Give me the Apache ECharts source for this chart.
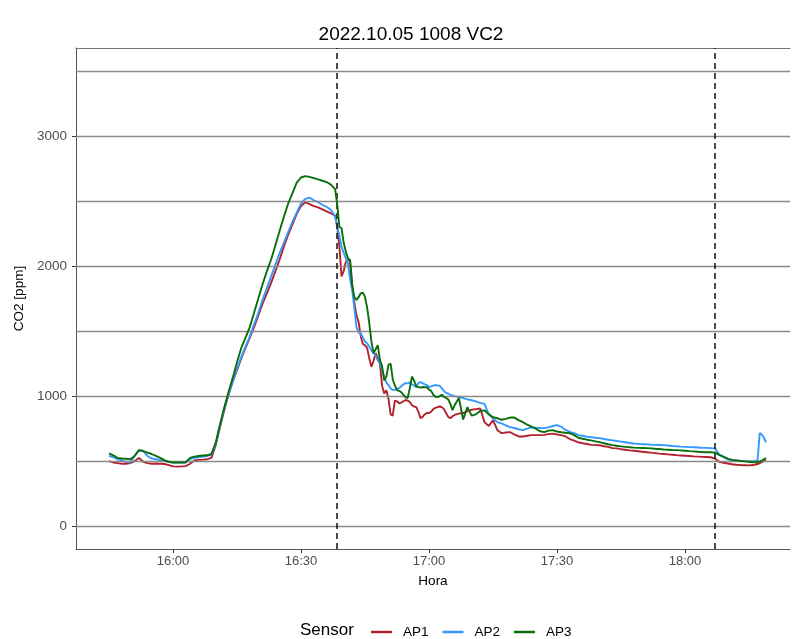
<!DOCTYPE html>
<html><head><meta charset="utf-8">
<script src="https://cdn.jsdelivr.net/npm/echarts@6/dist/echarts.min.js"></script>
<style>html,body{margin:0;padding:0;background:#fff}#c{width:792px;height:639px}</style>
</head><body><div id="c"></div>
<script>
// minutes after 16:00
const minutes = [-15,-14,-13,-12,-11,-10,-9,-8,-7,-6,-5,-4,-3,-2,-1,
0,1,2,3,4,5,6,7,8,9,
10,11,12,13,14,15,16,17,18,19,20,21,22,23,24,25,26,27,28,29,30,31,32,33,34,35,36,37,
38,38.5,39,39.5,40,40.5,41,41.5,42,42.5,43,43.5,44,44.5,45,45.5,46,46.5,47,47.5,48,48.5,49,49.5,50,50.5,51,51.5,52,52.5,53,53.5,54,54.5,55,55.5,56,56.5,57,57.5,58,58.5,59,59.5,60,60.5,61,61.5,62,62.5,63,63.5,64,64.5,65,65.5,66,
67,68,69,70,71,72,73,74,75,76,77,78,79,80,81,82,83,84,85,86,87,88,89,90,91,92,93,94,95,96,97,98,99,100,101,102,103,104,105,106,107,108,109,110,111,112,113,114,115,116,117,118,119,120,121,122,123,124,125,126,127,128,129,130,131,132,133,134,135,136,137,
137.5,138,138.5,139];

const ap1 = [500,490,485,480,480,485,500,525,495,485,480,482,480,478,470,
460,458,460,462,480,505,510,512,515,525,
620,760,890,1010,1110,1200,1290,1370,1450,1530,1620,1710,1790,1870,1960,2050,2150,2240,2320,2400,2460,2490,2475,2460,2450,2435,2420,2405,
2385,2300,2150,1920,1960,2030,2045,2040,1850,1720,1620,1570,1460,1400,1390,1370,1290,1225,1270,1330,1290,1250,1080,1020,1045,980,860,850,965,960,945,950,960,970,965,954,930,920,915,880,831,840,860,870,870,880,900,910,915,920,915,900,870,840,830,845,855,
865,870,885,895,900,905,800,770,815,740,715,720,723,705,690,690,695,700,700,700,702,708,712,705,700,690,670,658,645,638,632,625,623,622,615,610,600,598,592,588,583,580,576,572,569,566,562,558,555,552,549,546,544,542,540,537,535,533,532,530,520,495,488,482,476,472,470,469,468,470,478,
485,492,500,508];

const ap2 = [540,530,515,505,495,490,540,580,580,540,520,515,508,500,495,
490,490,490,490,515,525,530,535,540,550,
630,770,900,1010,1110,1210,1300,1380,1460,1550,1640,1740,1830,1920,2010,2100,2180,2260,2340,2410,2480,2515,2525,2505,2490,2470,2455,2430,
2380,2300,2230,2150,2100,2060,2020,1900,1815,1680,1530,1490,1480,1450,1420,1405,1380,1350,1330,1310,1275,1254,1200,1150,1105,1085,1060,1046,1050,1055,1062,1075,1090,1100,1098,1105,1090,1080,1070,1100,1108,1100,1090,1085,1070,1075,1080,1085,1082,1080,1060,1040,1025,1020,1010,1005,1000,
992,985,975,968,960,948,940,860,830,800,790,775,762,755,745,738,750,760,758,755,754,760,770,777,765,740,725,715,700,695,688,685,680,677,670,665,660,655,650,645,640,636,633,630,630,627,625,624,623,620,617,615,612,610,608,607,605,603,602,600,598,550,530,515,508,505,502,500,500,500,505,
715,705,680,645];

const ap3 = [560,545,525,520,518,515,540,585,578,565,555,540,525,508,495,
490,490,490,492,525,535,540,543,545,555,
640,780,910,1030,1140,1260,1370,1450,1530,1640,1750,1860,1960,2050,2160,2270,2380,2480,2560,2640,2680,2690,2685,2675,2665,2655,2645,2625,
2590,2470,2300,2290,2180,2110,2060,2046,1850,1760,1740,1760,1790,1795,1762,1680,1560,1420,1330,1360,1392,1277,1230,1120,1150,1240,1250,1130,1080,1046,1040,1030,1010,990,985,1060,1150,1120,1075,1069,1065,1070,1068,1069,1050,1040,1010,995,992,1000,1010,995,985,975,940,892,930,
985,820,915,850,860,885,890,860,838,830,818,825,835,835,815,800,780,765,750,730,723,735,738,728,722,718,715,700,680,672,665,660,652,646,638,630,623,618,614,610,607,604,602,601,600,598,595,593,590,588,586,585,583,580,577,575,572,570,569,568,566,548,535,520,510,506,502,498,495,492,492,
498,505,515,523];

const seriesNames = ['AP1','AP2','AP3'];
const hlineValues = [0,500,1000,1500,2000,2500,3000,3500];
const yTickValues = [0,1000,2000,3000];
const xTickMinutes = [0,30,60,90,120];
const xTickLabels = ['16:00','16:30','17:00','17:30','18:00'];
const eventMinutes = [38.4,127.0];

const colors = ['#B2222E','#3399FF','#0A6E0A'];
const XMIN = -22.73, XMAX = 144.6, YMIN = -175, YMAX = 3675;
const font = 'Liberation Sans, Arial, sans-serif';

const chart = echarts.init(document.getElementById('c'), null, {renderer:'canvas'});
const pair = arr => arr.map((v,i)=>[minutes[i], v]);
const labelFor = v => { const i = xTickMinutes.indexOf(v); return i>=0 ? xTickLabels[i] : ''; };

chart.setOption({
  animation:false,
  backgroundColor:'#fff',
  textStyle:{fontFamily:font},
  title:[
    {text:'2022.10.05 1008 VC2', left:406, top:20, textAlign:'center',
     textStyle:{fontSize:19, fontWeight:'normal', color:'#000', fontFamily:font}},
    {text:'Sensor', left:295, top:617, textStyle:{fontSize:17, fontWeight:'normal', color:'#000', fontFamily:font}}
  ],
  legend:{
    data:seriesNames, left:366, top:620, icon:'rect', itemWidth:21, itemHeight:2.5, itemGap:14,
    textStyle:{fontSize:13.5, color:'#000', fontFamily:font, padding:[0,0,0,6]}
  },
  grid:{left:76, right:2, top:48, bottom:90, containLabel:false},
  xAxis:[{
    type:'value', min:XMIN, max:XMAX, position:'bottom',
    name:'Hora', nameLocation:'middle', nameGap:25,
    nameTextStyle:{fontSize:13.5, color:'#000', fontFamily:font},
    axisLine:{show:true, onZero:false, lineStyle:{color:'#555', width:1}},
    axisTick:{show:true, length:4, customValues:xTickMinutes, lineStyle:{color:'#333', width:1}},
    axisLabel:{show:true, customValues:xTickMinutes, formatter:labelFor, fontSize:13, color:'#4d4d4d', margin:6, fontFamily:font},
    splitLine:{show:false}
  },{
    type:'value', min:XMIN, max:XMAX, position:'top',
    axisLine:{show:true, onZero:false, lineStyle:{color:'#777', width:1}},
    axisTick:{show:false}, axisLabel:{show:false}, splitLine:{show:false}
  }],
  yAxis:{
    type:'value', min:YMIN, max:YMAX,
    name:'CO2 [ppm]', nameLocation:'middle', nameGap:48, nameRotate:90,
    nameTextStyle:{fontSize:13.5, color:'#000', fontFamily:font},
    axisLine:{show:true, onZero:false, lineStyle:{color:'#555', width:1}},
    axisTick:{show:true, length:4, customValues:yTickValues, lineStyle:{color:'#333', width:1}},
    axisLabel:{show:true, customValues:yTickValues, formatter:v=>String(v), fontSize:13.5, color:'#4d4d4d', margin:9, fontFamily:font},
    splitLine:{show:false}
  },
  series:[
    {type:'line', name:'hlines', data:[], z:1, silent:true,
     markLine:{silent:true, symbol:['none','none'], label:{show:false}, animation:false,
       lineStyle:{color:'#8a8a8a', width:1.4, type:'solid'},
       data:hlineValues.map(v=>({yAxis:v}))}},
    ...seriesNames.map((n,k)=>({
      type:'line', name:n, data:pair([ap1,ap2,ap3][k]), showSymbol:false, symbol:'none',
      z:3+k, lineStyle:{color:colors[k], width:1.9}, itemStyle:{color:colors[k]}
    })),
    {type:'line', name:'events', data:[], z:10, silent:true,
     markLine:{silent:true, symbol:['none','none'], label:{show:false}, animation:false,
       lineStyle:{color:'#111', width:1.5, type:[6,4]},
       data:eventMinutes.map(v=>({xAxis:v}))}}
  ]
});
</script></body></html>
